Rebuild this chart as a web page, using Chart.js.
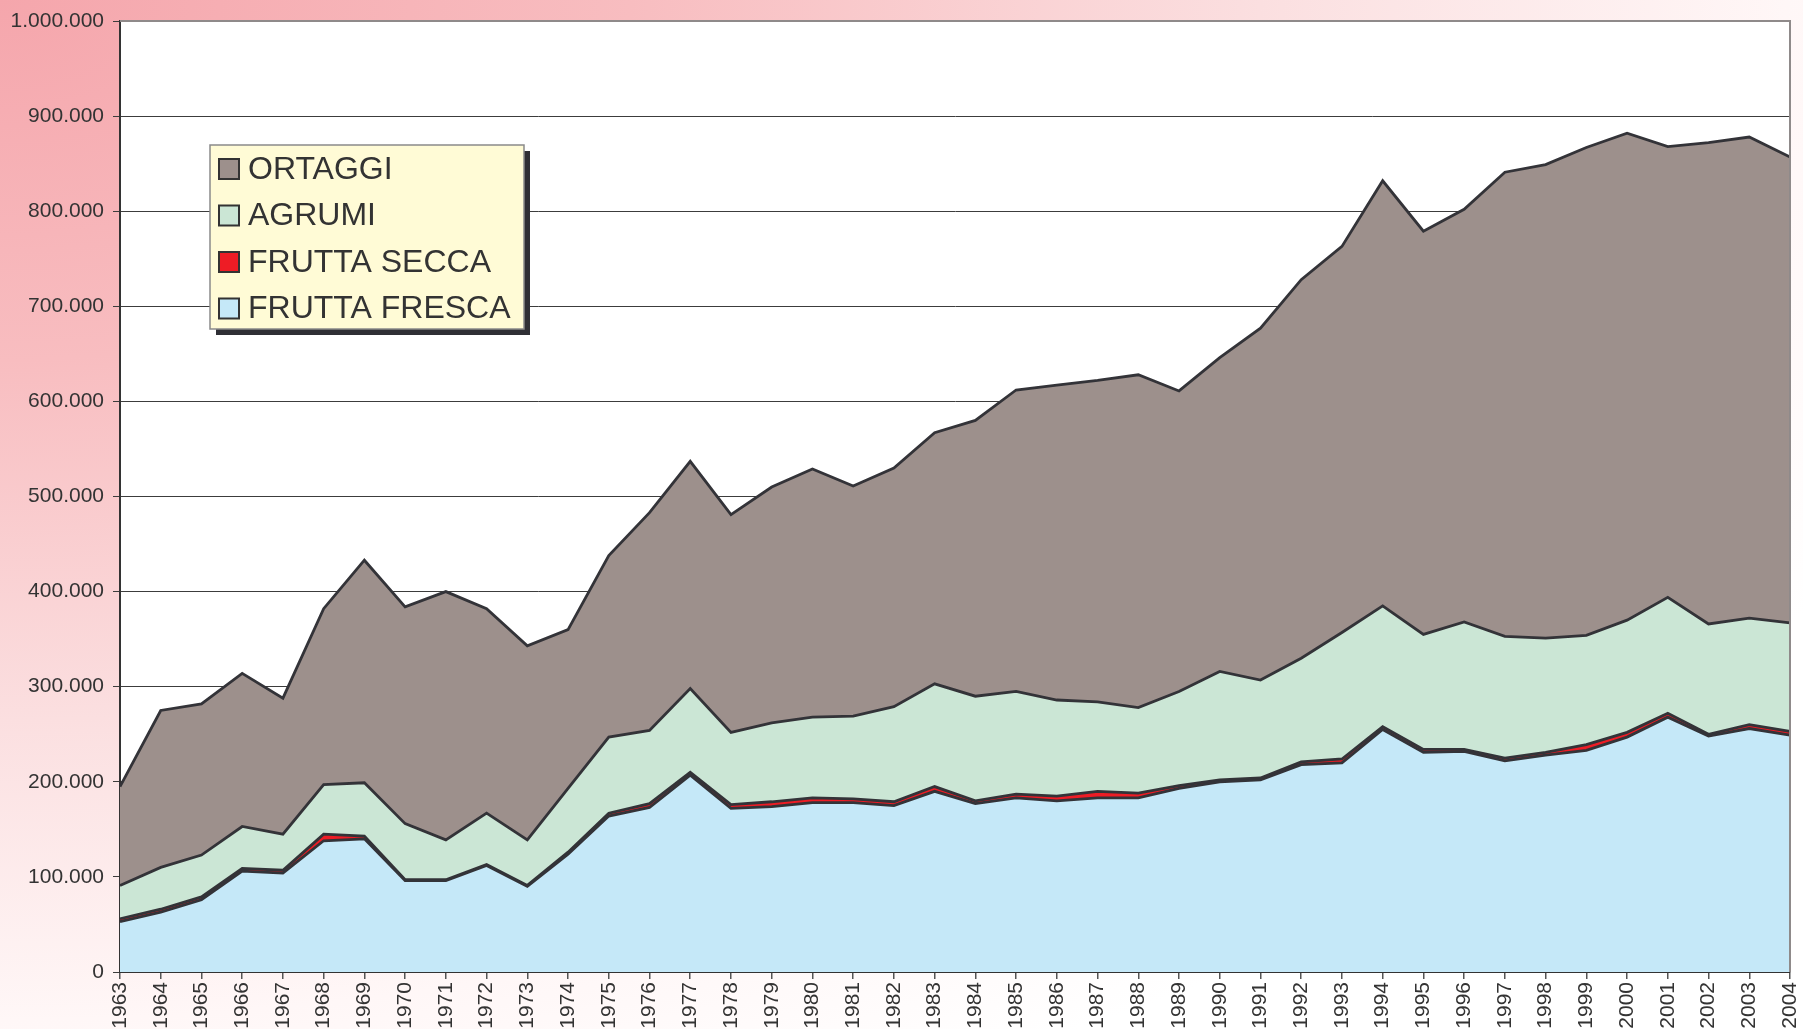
<!DOCTYPE html>
<html>
<head>
<meta charset="utf-8">
<script src="https://cdn.jsdelivr.net/npm/chart.js@4.4.1/dist/chart.umd.min.js"></script>
<style>
  html, body { margin:0; padding:0; }
  body {
    width:1803px; height:1029px; overflow:hidden;
    background: radial-gradient(ellipse 2100px 1200px at 0% 0%, #f5a6ac 0%, #f8bdc0 30%, #fbdfe0 60%, #fff7f7 85%, #ffffff 100%);
  }
  #wrap { position:absolute; left:0; top:0; width:1803px; height:1029px; }
</style>
</head>
<body>
<div id="wrap"><canvas id="c" width="1803" height="1029"></canvas></div>
<script>
const years = ['1963','1964','1965','1966','1967','1968','1969','1970','1971','1972','1973','1974','1975','1976','1977','1978','1979','1980','1981','1982','1983','1984','1985','1986','1987','1988','1989','1990','1991','1992','1993','1994','1995','1996','1997','1998','1999','2000','2001','2002','2003','2004'];

const fruttaFresca = [53000,63000,76000,106000,104000,138000,140000,96000,96000,112000,90000,124000,164000,173000,207000,172000,174000,178000,178000,175000,190000,177000,183000,180000,183000,183000,193000,200000,202000,218000,220000,255000,231000,232000,222000,228000,233000,247000,268000,248000,256000,249000];

const fruttaSecca = [3000,3000,3000,3000,3000,7000,3000,1000,1000,1000,1000,2000,3000,4000,3000,4000,5000,5000,4000,4000,5000,3000,4000,5000,7000,5000,3000,2000,2000,3000,4000,3000,3000,2000,3000,3000,6000,5000,4000,2000,4000,4000];

const agrumi = [35000,44000,44000,44000,38000,52000,56000,59000,42000,54000,48000,67000,80000,77000,88000,76000,83000,85000,87000,100000,108000,110000,108000,101000,94000,90000,99000,114000,103000,109000,133000,127000,121000,134000,128000,120000,115000,118000,122000,116000,112000,114000];

const ortaggi = [104000,165000,159000,161000,143000,185000,234000,228000,261000,215000,204000,167000,191000,229000,239000,229000,248000,261000,242000,251000,264000,290000,317000,331000,338000,350000,316000,330000,370000,398000,406000,447000,424000,434000,488000,498000,513000,512000,474000,506000,506000,490000];

const seriesNames = ['FRUTTA FRESCA','FRUTTA SECCA','AGRUMI','ORTAGGI'];
const seriesColors = ['#c5e8f8','#ee1c25','#cbe6d5','#9d908c'];
const legendOrder = ['ORTAGGI','AGRUMI','FRUTTA SECCA','FRUTTA FRESCA'];

const yMax = 1000000, yStep = 100000;

function fmt(v){ return String(v).replace(/\B(?=(\d{3})+(?!\d))/g,'.'); }

const FONT = '"Liberation Sans", Arial, sans-serif';

const plotBg = {
  id:'plotBg',
  beforeDraw(chart){
    const {ctx, chartArea:a} = chart;
    ctx.save();
    ctx.fillStyle = '#ffffff';
    ctx.fillRect(a.left, a.top, a.right-a.left, a.bottom-a.top);
    ctx.restore();
  },
  afterDatasetsDraw(chart){
    const {ctx, chartArea:a} = chart;
    ctx.save();
    ctx.strokeStyle = '#8f8a8a';
    ctx.lineWidth = 2;
    ctx.beginPath();
    ctx.moveTo(a.left, a.top);
    ctx.lineTo(a.right, a.top);
    ctx.lineTo(a.right, a.bottom);
    ctx.stroke();
    ctx.restore();
  }
};

const boxLegend = {
  id:'boxLegend',
  afterDraw(chart){
    const ctx = chart.ctx;
    const x = 210, y = 145, w = 314, h = 184, sh = 6;
    ctx.save();
    ctx.fillStyle = '#2f2f35';
    ctx.fillRect(x+sh, y+sh, w, h);
    ctx.fillStyle = '#fffbd6';
    ctx.fillRect(x, y, w, h);
    ctx.strokeStyle = '#8a8a8a';
    ctx.lineWidth = 1.5;
    ctx.strokeRect(x, y, w, h);
    ctx.font = '32px ' + FONT;
    ctx.textBaseline = 'middle';
    legendOrder.forEach((name, i) => {
      const cy = 169 + i*46.5;
      const idx = seriesNames.indexOf(name);
      ctx.fillStyle = seriesColors[idx];
      ctx.fillRect(219, cy-10, 20, 20);
      ctx.strokeStyle = '#333333';
      ctx.lineWidth = 2;
      ctx.strokeRect(219, cy-10, 20, 20);
      ctx.fillStyle = '#333333';
      ctx.fillText(name, 248, cy+1);
    });
    ctx.restore();
  }
};

const dataArrays = [fruttaFresca, fruttaSecca, agrumi, ortaggi];

new Chart(document.getElementById('c'), {
  type:'line',
  data:{
    labels: years,
    datasets: seriesNames.map((n,i)=>({
      label:n,
      data:dataArrays[i],
      backgroundColor:seriesColors[i],
      borderColor:'#333338',
      borderWidth:2.8,
      pointRadius:0,
      tension:0,
      fill: i===0 ? 'origin' : '-1'
    }))
  },
  options:{
    responsive:false,
    animation:false,
    events:[],
    layout:{ padding:{ left:0, right:13, top:21, bottom:0 } },
    plugins:{ legend:{display:false}, tooltip:{enabled:false} },
    scales:{
      x:{
        offset:false,
        grid:{ drawOnChartArea:false, drawTicks:true, tickLength:7, color:'#555555', lineWidth:1.5 },
        border:{ color:'#333333', width:2 },
        ticks:{ autoSkip:false, maxRotation:90, minRotation:90, padding:3, color:'#333333', font:{ family:FONT, size:21 } },
        afterFit(s){ s.height = 57; s.paddingRight = 0; s.paddingLeft = 0; }
      },
      y:{
        stacked:true,
        min:0, max:yMax,
        grid:{ color:'#3c3c3c', lineWidth:1, tickLength:7, drawTicks:true },
        border:{ color:'#333333', width:2 },
        ticks:{ stepSize:yStep, padding:9, color:'#333333', font:{ family:FONT, size:21 }, callback:(v)=>fmt(v) },
        afterFit(s){ s.width = 120; s.paddingTop = 0; s.paddingBottom = 0; }
      }
    }
  },
  plugins:[plotBg, boxLegend]
});
</script>
</body>
</html>
